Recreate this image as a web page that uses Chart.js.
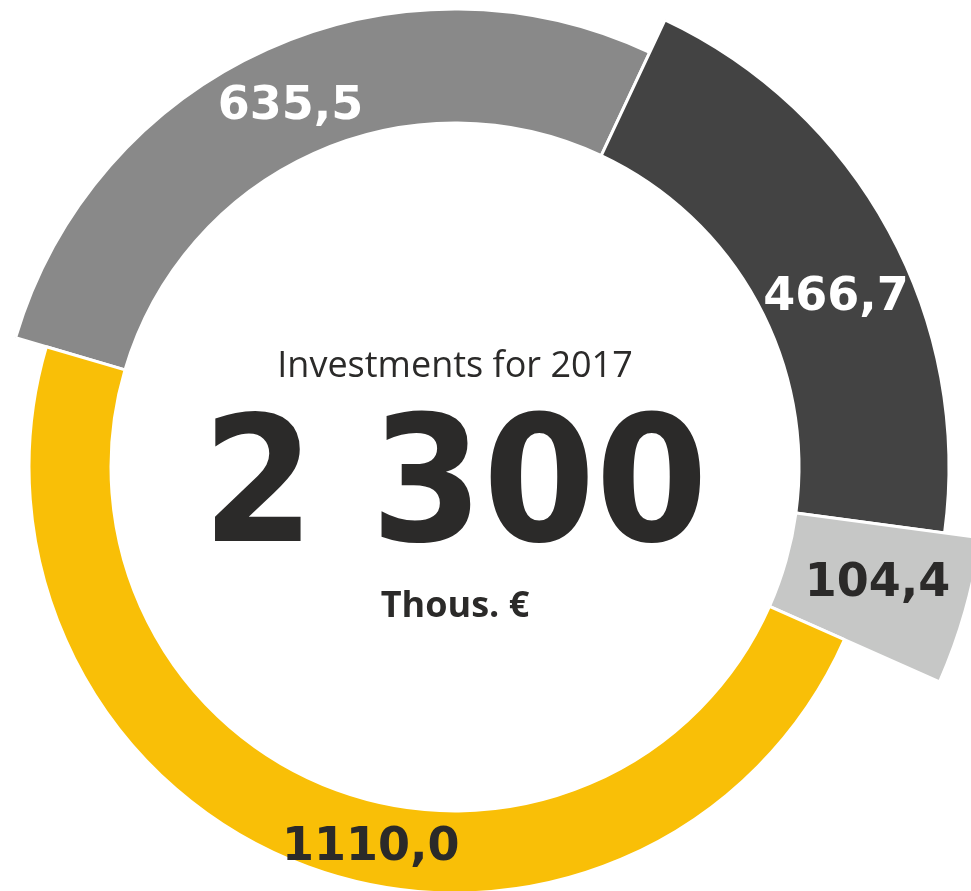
<html><head><meta charset="utf-8">
<script src="https://cdn.jsdelivr.net/npm/chart.js@4.4.0/dist/chart.umd.min.js"></script>
<style>
  body { margin: 0; background: #fff; }
  .chart-container { position: relative; width: 971px; height: 891px; }
</style>
</head>
<body>
<div class="chart-container"><canvas id="myChart"></canvas></div>
<script>
// data (thous. EUR)
var values = [635.5, 466.7, 104.4, 1110.0];
var categories = ['635,5', '466,7', '104,4', '1110,0'];
var centerTitle = 'Investments for 2017';
var centerValue = '2 300';
var centerUnit = 'Thous. €';

// look
var colors = ['#898989', '#434343', '#c6c7c6', '#f9bf07'];
var labelColors = ['#ffffff', '#ffffff', '#2b2a29', '#2b2a29'];
var innerR = 344;
var ringWidth = [114, 150, 186, 82];   // each slice has its own thickness
var labelShift = [0, 4, -1, -7.5];     // degrees, nudge along the arc
var textColor = '#2b2a29';

function fmt(v) { return v.toFixed(1).replace('.', ','); }

var ringSizes = {
  id: 'ringSizes',
  beforeDatasetsDraw: function(chart) {
    var meta = chart.getDatasetMeta(0);
    meta.data.forEach(function(arc, i) {
      arc.outerRadius = meta.controller.innerRadius + ringWidth[i];
    });
  }
};

var sliceLabels = {
  id: 'sliceLabels',
  afterDatasetsDraw: function(chart) {
    var ctx = chart.ctx;
    var meta = chart.getDatasetMeta(0);
    ctx.save();
    ctx.font = 'bold 46px "DejaVu Sans"';
    ctx.textAlign = 'center';
    ctx.textBaseline = 'alphabetic';
    var capH = ctx.measureText('0').actualBoundingBoxAscent;
    meta.data.forEach(function(arc, i) {
      var a = (arc.startAngle + arc.endAngle) / 2 + labelShift[i] * Math.PI / 180;
      var r = (arc.innerRadius + arc.outerRadius) / 2;
      ctx.fillStyle = labelColors[i];
      ctx.fillText(fmt(values[i]), arc.x + r * Math.cos(a), arc.y + r * Math.sin(a) + capH / 2);
    });

    // centre text
    var arc0 = meta.data[0];
    var cx = arc0.x, cy = arc0.y, ri = meta.controller.innerRadius;
    ctx.fillStyle = textColor;
    ctx.font = '36px "Open Sans"';
    ctx.fillText(centerTitle, cx, cy - ri * 0.2625);

    ctx.font = 'bold 174px "DejaVu Sans"';
    var m = ctx.measureText(centerValue);
    var ink = m.actualBoundingBoxLeft + m.actualBoundingBoxRight;
    var sx = (ri * 1.413) / ink;
    ctx.save();
    ctx.translate(cx, cy + ri * 0.214);
    ctx.scale(sx, 1);
    ctx.fillText(centerValue, 0, 0);
    ctx.restore();

    ctx.font = 'bold 36px "Open Sans"';
    ctx.fillText(centerUnit, cx, cy + ri * 0.437);
    ctx.restore();
  }
};

var ctx = document.getElementById('myChart');
var myChart = new Chart(ctx, {
  type: 'doughnut',
  data: {
    labels: categories,
    datasets: [{
      data: values,
      backgroundColor: colors,
      borderColor: '#ffffff',
      borderWidth: 3
    }]
  },
  options: {
    responsive: true,
    maintainAspectRatio: false,
    animation: false,
    rotation: 286.4,
    radius: innerR + Math.max.apply(null, ringWidth),
    cutout: (innerR / (innerR + Math.max.apply(null, ringWidth)) * 100) + '%',
    layout: { padding: { left: 0, right: 61, top: 43, bottom: 0 } },
    plugins: {
      legend: { display: false },
      tooltip: { enabled: false }
    }
  },
  plugins: [ringSizes, sliceLabels]
});
</script>
</body></html>
